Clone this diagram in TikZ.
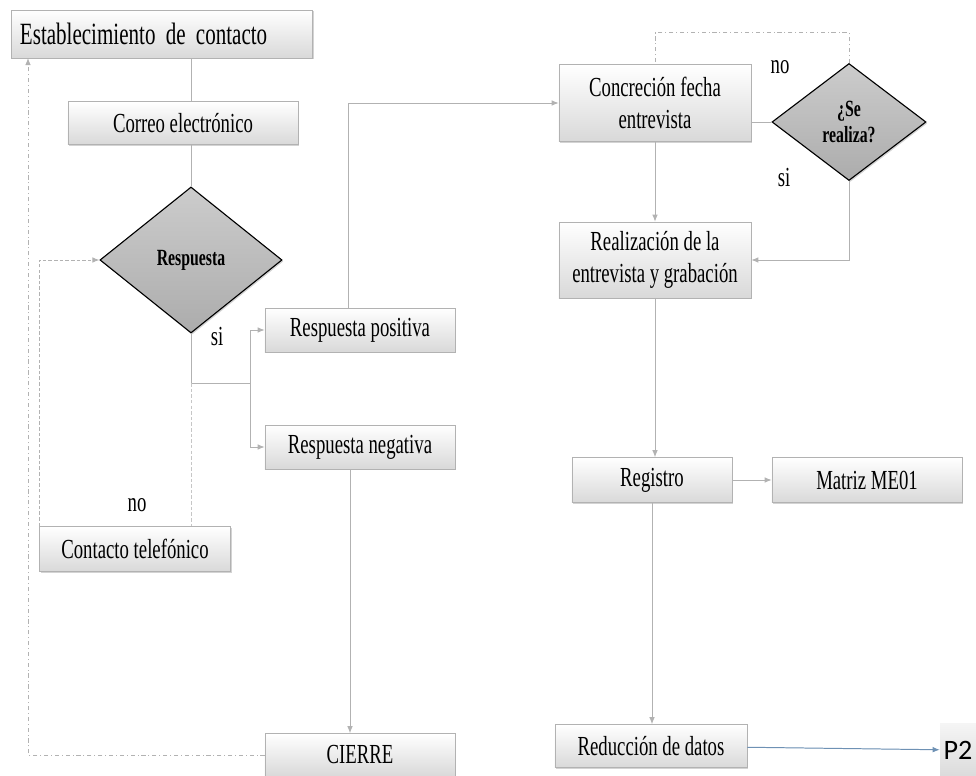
\documentclass[tikz,border=0pt]{standalone}
\usepackage{fontspec}
\setmainfont{Liberation Serif}[FakeStretch=0.68]
\newfontfamily\ptfont{Carlito}
\usepackage{tikz}
\usetikzlibrary{shapes,arrows}
\usetikzlibrary{shapes.geometric}
\usetikzlibrary{positioning}
\usetikzlibrary{calc}
\usetikzlibrary{shadows}
\usetikzlibrary{arrows.meta}
\definecolor{linkblue}{RGB}{110,145,180}
\tikzset{>=stealth}
\tikzstyle{line} = [draw, -{Latex[length=5pt,width=4pt]}, gray!60, line width=0.7pt]

\begin{document}
\begin{tikzpicture}[
  x=0.025cm, y=-0.025cm,
	box/.style={draw=gray!60, top color=white, bottom color=gray!30,
		minimum height=1.1cm, inner sep=2pt, align=center,
		font=\fontsize{19.6}{22.5}\selectfont,
		drop shadow={opacity=0.35, shadow xshift=1pt, shadow yshift=-1pt}},
	decision/.style={diamond, draw=black, line width=0.8pt,
		top color=gray!40, bottom color=gray!65, inner sep=0pt, align=center,
		font=\bfseries\fontsize{16.5}{19}\selectfont,
		drop shadow={opacity=0.35, shadow xshift=1pt, shadow yshift=-1pt}},
	loop/.style={dash pattern=on 2.5pt off 1.5pt},
	lbl/.style={font=\fontsize{19.6}{20}\selectfont}]
	\useasboundingbox (0,0) rectangle (976,776);
	%% States
	\node [box, minimum width=7.525cm, minimum height=1.2cm, text width=7.1cm, align=left,
		font=\fontsize{22}{24}\selectfont] at (162,34) (est) {Establecimiento de contacto};
	\node [box, minimum width=5.75cm, minimum height=1.075cm] at (183,123) (correo) {Correo electrónico};
	\node [decision, minimum width=4.55cm, minimum height=3.65cm] at (191,260) (resp) {Respuesta};
	\node [box, minimum width=4.75cm] at (360,330) (pos) {Respuesta positiva};
	\node [box, minimum width=4.75cm] at (360,447) (neg) {Respuesta negativa};
	\node [box, minimum width=4.78cm, minimum height=1.125cm] at (135,549) (tel) {Contacto telefónico};
	\node [box, minimum width=4.75cm, minimum height=1.075cm] at (360,755) (cierre) {CIERRE};
	\node [box, minimum width=4.8cm, minimum height=1.925cm] at (655,103) (conc) {Concreción fecha\\entrevista};
	\node [decision, minimum width=3.85cm, minimum height=2.925cm] at (849,122) (serea) {¿Se\\realiza?};
	\node [box, minimum width=4.8cm, minimum height=1.9cm] at (655,260) (real) {Realización de la\\entrevista y grabación};
	\node [box, minimum width=4cm, minimum height=1.125cm] at (652,480) (reg) {Registro};
	\node [box, minimum width=4.75cm, minimum height=1.125cm] at (867,480) (matriz) {Matriz ME01};
	\node [box, minimum width=4.8cm, minimum height=1.075cm] at (651,746) (red) {Reducción de datos};
	\node [top color=gray!8, bottom color=gray!28, minimum width=0.9cm, minimum height=1.3cm,
		inner sep=0pt, font=\ptfont\fontsize{20}{22}\selectfont] at (958,750) (p2) {P2};
	%% Labels
	\node [lbl] at (217,337) (si1) {si};
	\node [lbl] at (137,505) (no1) {no};
	\node [lbl] at (780,67) (no2) {no};
	\node [lbl] at (784,178) (si2) {si};
	%% Flows
	\coordinate (j1) at (191,383);
	\coordinate (j2) at (250,383);
	\coordinate (c1) at (28,58);
	\path [line, -] (resp.north |- est.south) -- (resp.north |- correo.north);
	\path [line, -] (resp.north |- correo.south) -- (resp.north);
	\path [line, -] (resp.south) -- (j1) -- (j2);
	\path [line] (j2) |- (pos);
	\path [line] (j2) |- (neg);
	\path [line, -, loop, gray!45] (j1) -- (tel.north -| j1);
	\path [line, loop] (tel.north west) |- (resp.west);
	\path [line, dash dot] (cierre.west) -| (c1);
	\path [line] ([xshift=-0.25cm]neg.south) -- ([xshift=-0.25cm]cierre.north);
	\path [line] ([xshift=-0.28cm]pos.north) |- (conc.west);
	\path [line] (conc) -- (real);
	\path [line, -] (serea.west -| conc.east) -- (serea.west);
	\path [line, -, dash dot] (serea.north) -- ++(0,-30) -| (conc.north);
	\path [line] (serea.south) |- (real.east);
	\path [line] (real.south) -- (real.south |- reg.north);
	\path [line] (reg) -- (matriz);
	\path [line] (reg.south) -- (reg.south |- red.north);
	\path [line, draw=linkblue, fill=linkblue] (red) -- (p2);
\end{tikzpicture}
\end{document}
